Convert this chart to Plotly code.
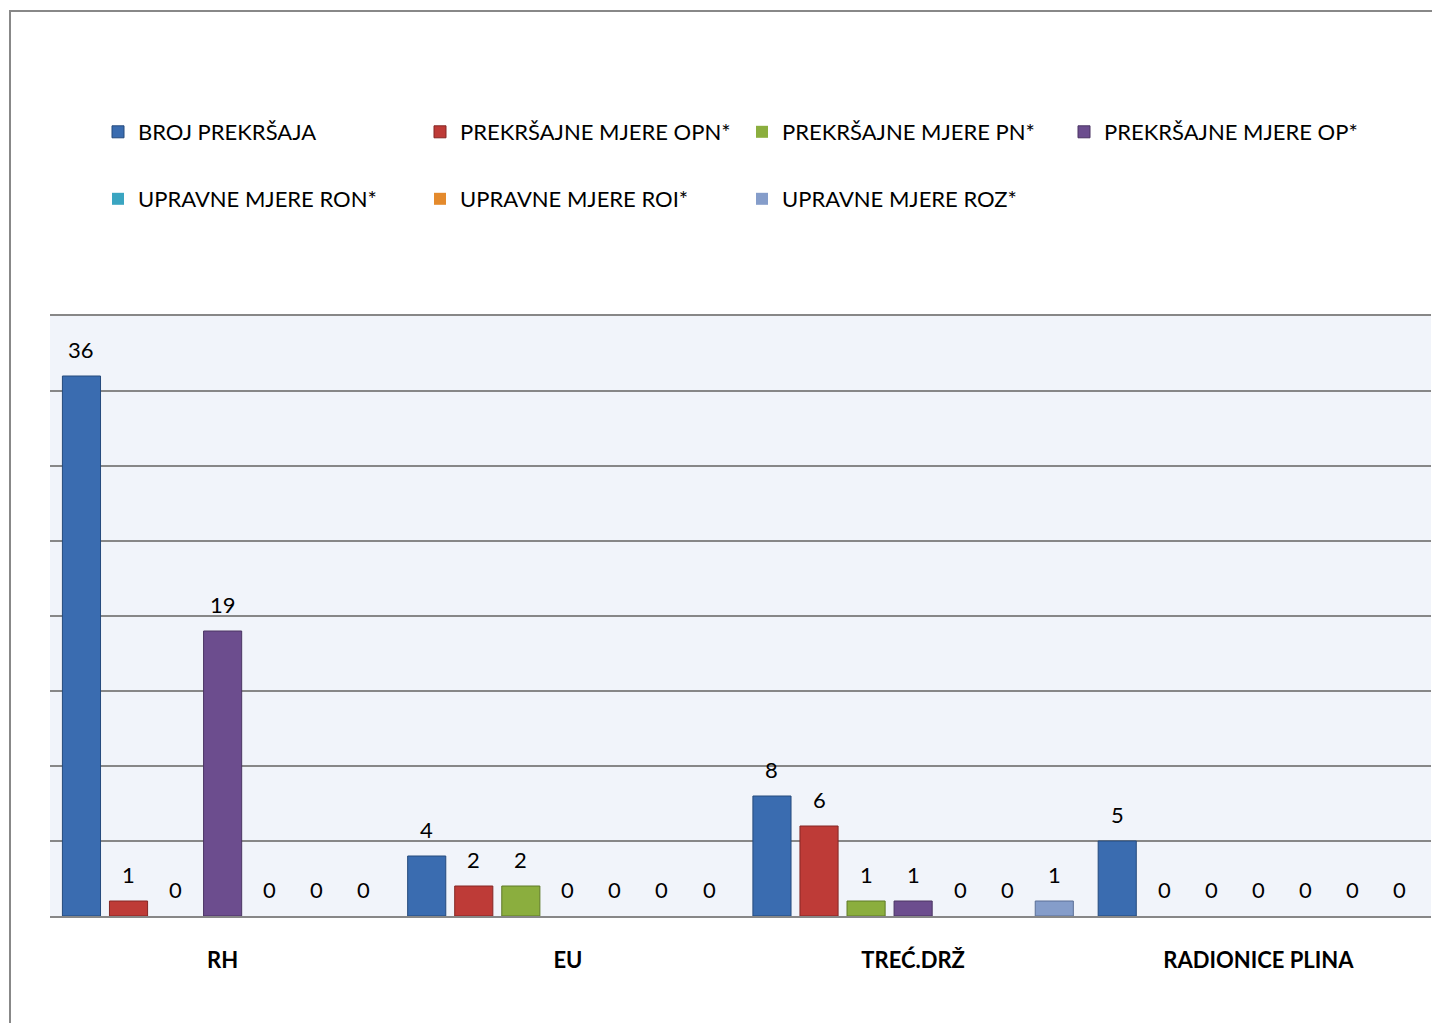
import plotly.graph_objects as go

categories = ["RH", "EU", "TREĆ.DRŽ", "RADIONICE PLINA"]
series_names = [
    "BROJ PREKRŠAJA",
    "PREKRŠAJNE MJERE OPN*",
    "PREKRŠAJNE MJERE PN*",
    "PREKRŠAJNE MJERE OP*",
    "UPRAVNE MJERE RON*",
    "UPRAVNE MJERE ROI*",
    "UPRAVNE MJERE ROZ*",
]
broj_prekrsaja = [36, 4, 8, 5]
mjere_opn = [1, 2, 6, 0]
mjere_pn = [0, 2, 1, 0]
mjere_op = [19, 0, 1, 0]
mjere_ron = [0, 0, 0, 0]
mjere_roi = [0, 0, 0, 0]
mjere_roz = [0, 0, 1, 0]
series_values = [broj_prekrsaja, mjere_opn, mjere_pn, mjere_op, mjere_ron, mjere_roi, mjere_roz]

colors = ["#3A6CB0", "#BE3B37", "#8BAE3E", "#6C4D8E", "#3AA5C1", "#E48A2C", "#859DCA"]
line_colors = ["#254A7C", "#842724", "#5F7A27", "#4A3463", "#277488", "#A8621E", "#5B6F96"]

FONT = "Lato"
W, H = 1432, 1015  # page body has an 8px margin
BARGAP = 0.046
n_series = len(series_names)

fig = go.Figure()
annotations = []
for i, (name, vals) in enumerate(zip(series_names, series_values)):
    fig.add_trace(go.Bar(
        name=name,
        x=categories,
        y=vals,
        marker=dict(color=colors[i],
                    line=dict(color=line_colors[i],
                              width=[1 if v > 0 else 0 for v in vals])),
        legend="legend" if i < 4 else "legend2",
    ))
    slot = (1 - BARGAP) / n_series
    for k, v in enumerate(vals):
        annotations.append(dict(
            xref="x", yref="y",
            x=k + (i - (n_series - 1) / 2) * slot, y=v,
            text=str(v), showarrow=False,
            xanchor="center", yanchor="middle", yshift=27,
            font=dict(family=FONT, size=22, color="#000000"),
        ))

legend_common = dict(
    orientation="h",
    xref="container", yref="container",
    x=90 / W, xanchor="left",
    yanchor="middle",
    entrywidth=277, entrywidthmode="pixels",
    font=dict(family=FONT, size=22, color="#000000"),
    bgcolor="rgba(0,0,0,0)",
    itemwidth=30,
)

fig.update_layout(
    width=W, height=H,
    margin=dict(l=42, r=9, t=308, b=107),
    paper_bgcolor="#FFFFFF",
    plot_bgcolor="#F1F4FA",
    barmode="group",
    bargap=BARGAP,
    bargroupgap=0.19,
    showlegend=True,
    legend=dict(legend_common, y=1 - 124 / H),
    legend2=dict(legend_common, y=1 - 191 / H),
    xaxis=dict(
        showline=True, mirror=True, linecolor="#878787", linewidth=2,
        showgrid=False, ticks="",
        tickfont=dict(family=FONT, size=22, color="#000000", weight="bold"),
        ticklabelstandoff=24,
    ),
    yaxis=dict(
        range=[0, 40], dtick=5, showticklabels=False,
        showgrid=True, gridcolor="#878787", gridwidth=2,
        zeroline=False, showline=False, ticks="",
    ),
    annotations=annotations,
    shapes=[dict(
        type="rect", xref="paper", yref="paper",
        x0=(10 - 50) / 1381, x1=(1445 - 50) / 1381,
        y0=-0.3, y1=(916 - 11) / 600,
        line=dict(color="#888888", width=2),
        fillcolor="rgba(0,0,0,0)", layer="below",
    )],
)

fig.write_html("out.html")
